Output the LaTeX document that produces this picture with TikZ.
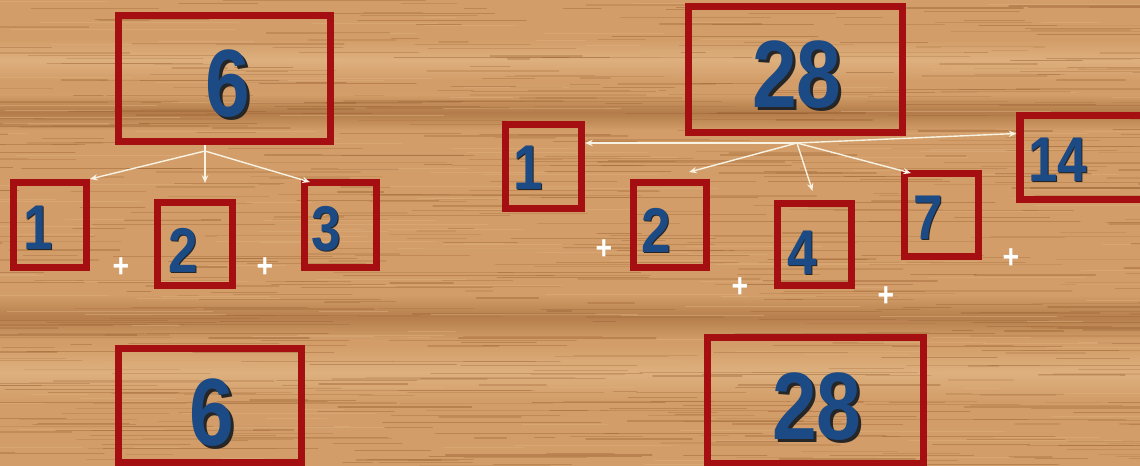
\documentclass[tikz,border=0pt]{standalone}
\usepackage{fontspec}
\usepackage{xcolor}
\usetikzlibrary{arrows.meta,positioning,calc}

\newfontfamily\numfont[FakeStretch=0.84]{Liberation Sans}
\definecolor{woodbase}{HTML}{D29D68}
\definecolor{woodlight}{HTML}{DDB07E}
\definecolor{wooddark}{HTML}{985F30}
\definecolor{boxred}{HTML}{A50F12}
\definecolor{numblue}{HTML}{1B4A85}
\definecolor{arrowwhite}{HTML}{F8F2E2}

% number with a dark drop shadow
\newcommand{\shnum}[2]{\leavevmode\rlap{\kern#1\smash{\raisebox{-#1}{\color{black!85}#2}}}{\color{numblue}#2}}

\begin{document}
\begin{tikzpicture}[
  x=0.025cm, y=-0.025cm,
  >={Stealth[length=5.5pt,width=4.5pt]},
  box/.style={draw=boxred, line width=5pt, inner sep=0pt},
  bignum/.style={inner sep=0pt, font=\numfont\bfseries\fontsize{68}{68}\selectfont},
  smallnum/.style={inner sep=0pt, font=\numfont\bfseries\fontsize{45}{45}\selectfont},
  plus/.style={inner sep=0pt, text=white, font=\numfont\bfseries\fontsize{24}{24}\selectfont},
  arr/.style={->, draw=arrowwhite, line width=1pt},
  grain/.style={draw=wooddark, line cap=round}
]
\useasboundingbox (0,0) rectangle (1140,466);
\clip (0,0) rectangle (1140,466);

% wood background
\fill[woodbase] (0,0) rectangle (1140,466);
\shade[top color=woodbase, bottom color=woodbase, middle color=wooddark!55!woodbase] (0,95) rectangle (1140,130);
\shade[top color=woodbase, bottom color=woodbase, middle color=wooddark!50!woodbase] (0,295) rectangle (1140,340);
\shade[top color=woodbase, bottom color=woodbase, middle color=woodlight] (0,40) rectangle (1140,80);
\shade[top color=woodbase, bottom color=woodbase, middle color=woodlight] (0,345) rectangle (1140,400);
\pgfmathsetseed{11}
\foreach \i in {1,...,700} {
  \pgfmathsetmacro{\gx}{rnd*1240-100}
  \pgfmathsetmacro{\gy}{rnd*466}
  \pgfmathsetmacro{\gl}{20+rnd*200}
  \pgfmathsetmacro{\go}{0.15+rnd*0.3}
  \pgfmathsetmacro{\gw}{0.3+rnd*1.0}
  \draw[grain, draw opacity=\go, line width=\gw pt] (\gx,\gy) -- ++(\gl,0);
}
\foreach \i in {1,...,180} {
  \pgfmathsetmacro{\gx}{rnd*1240-100}
  \pgfmathsetmacro{\gy}{rnd*466}
  \pgfmathsetmacro{\gl}{30+rnd*200}
  \draw[draw=woodlight, draw opacity=0.5, line width=0.7pt] (\gx,\gy) -- ++(\gl,0);
}

% perfect number 6
\node[box, minimum width=5.3cm, minimum height=3.15cm] (six) at (224.5,78.5) {};
\node[box, minimum width=1.82cm, minimum height=2.12cm] (a1) at (50,225) {};
\node[box, minimum width=1.88cm, minimum height=2.08cm] (a2) at (195,244) {};
\node[box, minimum width=1.8cm, minimum height=2.12cm] (a3) at (340.5,225) {};
\node[box, minimum width=4.58cm, minimum height=2.85cm] (sixsum) at (210,405.5) {};

\node[bignum] (sixnum) at (228,84) {\shnum{2pt}{6}};
\node[smallnum] (a1num) at (38,228) {\shnum{0.7pt}{1}};
\node[smallnum] (a2num) at (183,250) {\shnum{0.7pt}{2}};
\node[smallnum] (a3num) at (326,229) {\shnum{0.7pt}{3}};
\node[bignum] (sixsumnum) at (212,413) {\shnum{2pt}{6}};

\node[plus] (pa1) at (121,268) {+};
\node[plus] (pa2) at (265,268) {+};

\coordinate (forksix) at (205,151);
\coordinate (downsix) at (205,183);
\draw[arr] (six.south -| forksix) -- (downsix);
\draw[arr] (forksix) -- (a1.north east);
\draw[arr] (forksix) -- ($(a3.north west)+(9,3)$);

% perfect number 28
\node[box, minimum width=5.35cm, minimum height=3.15cm] (eight) at (795.5,69.5) {};
\node[box, minimum width=1.9cm, minimum height=2.1cm] (b1) at (543.5,166.5) {};
\node[box, minimum width=1.82cm, minimum height=2.12cm] (b2) at (670,225) {};
\node[box, minimum width=1.85cm, minimum height=2.05cm] (b4) at (814.5,244.5) {};
\node[box, minimum width=1.85cm, minimum height=2.07cm] (b7) at (941.5,215) {};
\node[box, minimum width=3.3cm, minimum height=2.1cm] (b14) at (1086,157.5) {};
\node[box, minimum width=5.4cm, minimum height=3.15cm] (eightsum) at (815.5,400.5) {};

\node[bignum] (eightnum) at (797,75) {\shnum{2pt}{28}};
\node[smallnum] (b1num) at (528,168) {\shnum{0.7pt}{1}};
\node[smallnum] (b2num) at (656,230) {\shnum{0.7pt}{2}};
\node[smallnum] (b4num) at (802,253) {\shnum{0.7pt}{4}};
\node[smallnum] (b7num) at (928,218) {\shnum{0.7pt}{7}};
\node[smallnum] (b14num) at (1058,160) {\shnum{0.7pt}{14}};
\node[bignum] (eightsumnum) at (817,407) {\shnum{2pt}{28}};

\node[plus] (pb1) at (604,250) {+};
\node[plus] (pb2) at (740,288) {+};
\node[plus] (pb3) at (886,297) {+};
\node[plus] (pb4) at (1011,259) {+};

\coordinate (forkeight) at (797,143);
\draw[arr] (forkeight) -- (forkeight -| b1.east);
\draw[arr] (forkeight) -- ($(b14.west)+(0,-24)$);
\draw[arr] (forkeight) -- ($(b2.north)+(19,-7)$);
\draw[arr] (forkeight) -- ($(b4.north)+(-2,-9)$);
\draw[arr] (forkeight) -- ($(b7.north west)+(10,3)$);
\end{tikzpicture}
\end{document}
